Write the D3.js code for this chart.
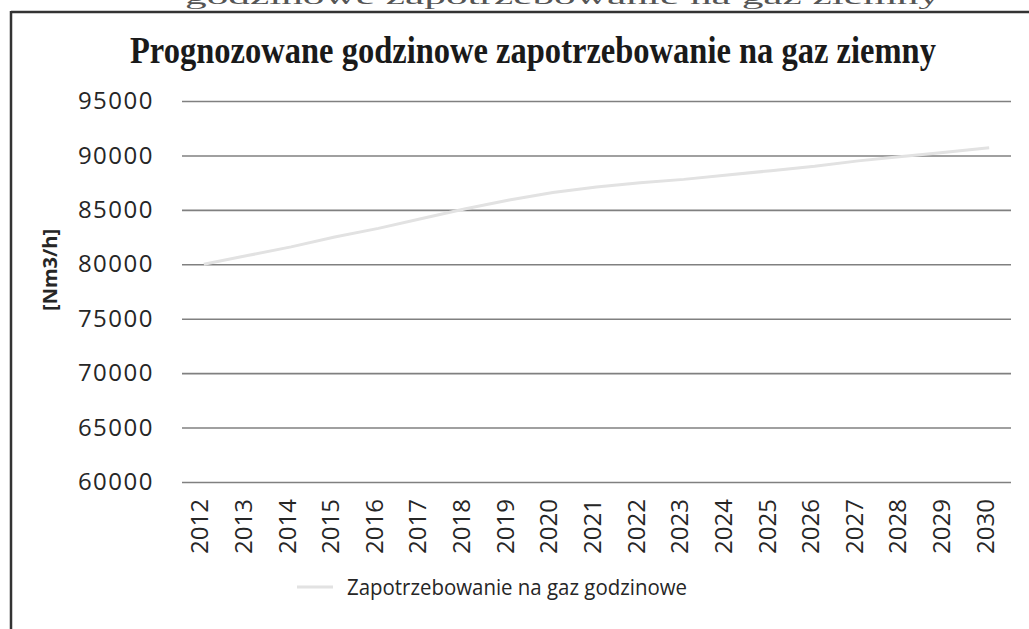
<!DOCTYPE html>
<html lang="pl">
<head>
    <meta charset="UTF-8">
    <script src="https://cdn.jsdelivr.net/npm/d3@7"></script>
    <title>Prognozowane godzinowe zapotrzebowanie na gaz ziemny</title>
    <style>
        html, body {
            margin: 0;
            padding: 0;
            background-color: #ffffff;
        }
        svg { display: block; }
    </style>
</head>
<body>
    <div id="chart"></div>
    <script>
        // dane
        let years = ['2012', '2013', '2014', '2015', '2016', '2017', '2018', '2019', '2020', '2021',
                     '2022', '2023', '2024', '2025', '2026', '2027', '2028', '2029', '2030'];
        let demand = [80000, 80800, 81600, 82500, 83300, 84200, 85100, 85900, 86600, 87100,
                      87500, 87800, 88200, 88600, 89000, 89500, 89900, 90300, 90700];
        let y_ticks = [60000, 65000, 70000, 75000, 80000, 85000, 90000, 95000];

        let width = 1029;
        let height = 629;

        let plot = { left: 182, right: 1011, top: 101, bottom: 482 };

        let svg = d3.select('#chart').append('svg')
            .attr('width', width)
            .attr('height', height);

        // ramka ze skanu
        svg.append('line')
            .attr('x1', 11).attr('x2', width)
            .attr('y1', 12).attr('y2', 12)
            .attr('stroke', '#333').attr('stroke-width', 2.5);
        svg.append('line')
            .attr('x1', 11).attr('x2', 11)
            .attr('y1', 11).attr('y2', height)
            .attr('stroke', '#333').attr('stroke-width', 2.5);

        // podpis nad ramka (w oryginale uciety u gory skanu)
        svg.append('text')
            .attr('x', 185).attr('y', 4)
            .attr('font-family', 'Liberation Serif, serif')
            .attr('font-size', 20)
            .attr('fill', '#555')
            .attr('textLength', 755)
            .attr('lengthAdjust', 'spacingAndGlyphs')
            .text('godzinowe zapotrzebowanie na gaz ziemny');

        // tytul - zwezony jak w skanie
        let title = svg.append('text')
            .attr('x', 0).attr('y', 0)
            .attr('font-family', 'Liberation Serif, serif')
            .attr('font-weight', 'bold')
            .attr('font-size', 37)
            .attr('fill', '#1a1a1a')
            .text('Prognozowane godzinowe zapotrzebowanie na gaz ziemny');
        let title_len = title.node().getComputedTextLength();
        title.attr('transform', `translate(130,63) scale(${806 / title_len},1)`);

        let x = d3.scaleBand()
            .domain(years)
            .range([plot.left, plot.right])
            .padding(0);

        let y = d3.scaleLinear()
            .domain([60000, 95000])
            .range([plot.bottom, plot.top]);

        let y_axis = svg.append('g')
            .attr('transform', `translate(${plot.left},0)`)
            .call(d3.axisLeft(y)
                .tickValues(y_ticks)
                .tickFormat(d3.format('d'))
                .tickSize(-(plot.right - plot.left))
                .tickPadding(28));
        y_axis.select('.domain').remove();
        y_axis.selectAll('.tick line')
            .attr('stroke', '#808080')
            .attr('stroke-width', 1.6);
        y_axis.selectAll('.tick text')
            .attr('font-family', 'Open Sans, sans-serif')
            .attr('font-size', 24)
            .attr('fill', '#262626')
            .attr('letter-spacing', 1.5);

        let x_axis = svg.append('g')
            .attr('transform', `translate(0,${plot.bottom})`)
            .call(d3.axisBottom(x).tickSize(0).tickPadding(0));
        x_axis.select('.domain').remove();
        x_axis.selectAll('.tick text')
            .attr('font-family', 'Open Sans, sans-serif')
            .attr('font-size', 24)
            .attr('fill', '#262626')
            .attr('text-anchor', 'end')
            .attr('dy', 0)
            .attr('transform', 'translate(-5,17) rotate(-90)')
            .attr('dominant-baseline', 'central');

        svg.append('text')
            .attr('transform', 'translate(49,270) rotate(-90)')
            .attr('text-anchor', 'middle')
            .attr('dominant-baseline', 'central')
            .attr('font-family', 'Open Sans, sans-serif')
            .attr('font-weight', 'bold')
            .attr('font-size', 20)
            .attr('fill', '#262626')
            .text('[Nm3/h]');

        let line = d3.line()
            .x((d, i) => x(years[i]) + x.bandwidth() / 2)
            .y((d) => y(d));

        svg.append('path')
            .datum(demand)
            .attr('d', line)
            .attr('fill', 'none')
            .attr('stroke', '#e2e2e2')
            .attr('stroke-width', 3);

        // legenda
        let legend = svg.append('g').attr('transform', 'translate(297,587)');
        legend.append('line')
            .attr('x1', 0).attr('x2', 36)
            .attr('y1', 0).attr('y2', 0)
            .attr('stroke', '#e2e2e2')
            .attr('stroke-width', 3);
        legend.append('text')
            .attr('x', 50).attr('y', 0)
            .attr('dominant-baseline', 'central')
            .attr('font-family', 'Open Sans, sans-serif')
            .attr('font-size', 21)
            .attr('fill', '#262626')
            .attr('textLength', 340)
            .attr('lengthAdjust', 'spacingAndGlyphs')
            .text('Zapotrzebowanie na gaz godzinowe');
    </script>
</body>
</html>
